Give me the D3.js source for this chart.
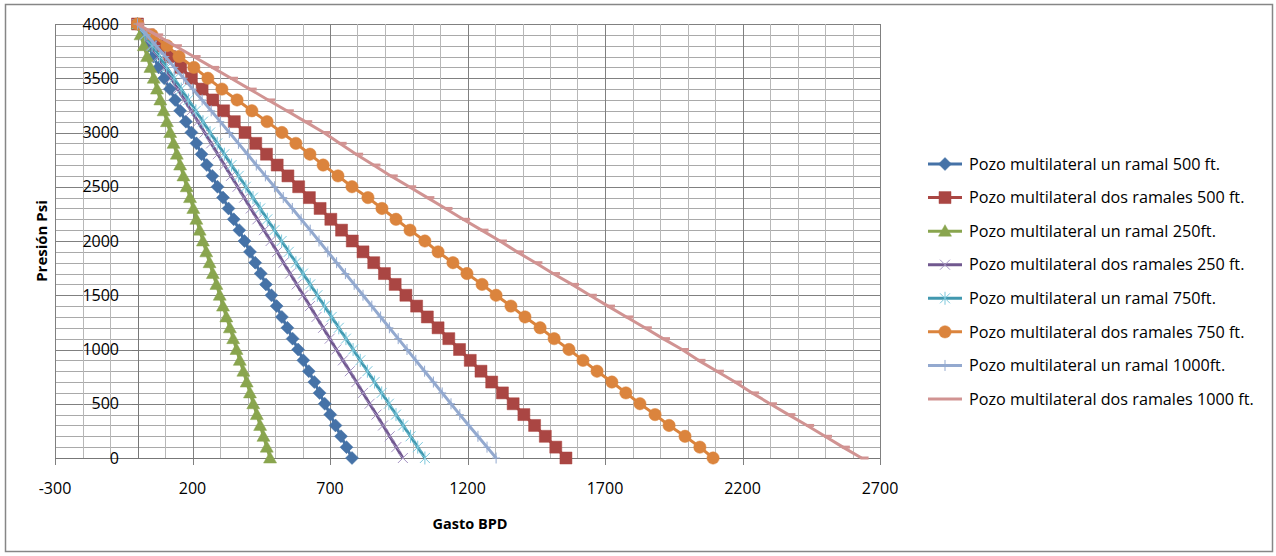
<!DOCTYPE html>
<html>
<head>
<meta charset="utf-8">
<script src="https://cdn.jsdelivr.net/npm/d3@7"></script>
<style>
  html, body { margin: 0; padding: 0; background: #fff; }
  svg text { font-family: 'Open Sans', 'Noto Sans', sans-serif; fill: #000; }
</style>
</head>
<body>
<script>
// pressure levels (psi), shared by every series
var pressure = [4000, 3900, 3800, 3700, 3600, 3500, 3400, 3300, 3200, 3100,
  3000, 2900, 2800, 2700, 2600, 2500, 2400, 2300, 2200, 2100,
  2000, 1900, 1800, 1700, 1600, 1500, 1400, 1300, 1200, 1100,
  1000, 900, 800, 700, 600, 500, 400, 300, 200, 100, 0];

// gasto (BPD) for each pressure level
var unRamal500 = [0, 22, 40, 58, 77, 97, 118, 137, 155, 176,
  196, 214, 233, 252, 272, 291, 311, 331, 350, 370,
  389, 409, 428, 448, 467, 487, 506, 525, 545, 564,
  584, 603, 623, 643, 662, 681, 701, 720, 740, 760, 780];
var dosRamales500 = [0, 39, 78, 117, 157, 196, 235, 274, 313, 352,
  391, 430, 469, 508, 547, 586, 625, 664, 703, 742,
  781, 820, 859, 898, 937, 976, 1015, 1054, 1093, 1132,
  1171, 1210, 1249, 1288, 1327, 1366, 1405, 1444, 1483, 1521, 1558];
var unRamal250 = [0, 11, 23, 35, 47, 59, 71, 83, 95, 107,
  119, 131, 143, 155, 167, 179, 191, 203, 214, 226,
  238, 250, 262, 274, 287, 299, 311, 323, 336, 348,
  360, 372, 385, 397, 409, 421, 434, 446, 458, 470, 482];
var dosRamales250 = [0, 25, 49, 74, 98, 122, 147, 171, 195, 220,
  244, 268, 292, 316, 340, 364, 388, 412, 436, 460,
  484, 508, 531, 555, 579, 603, 627, 651, 675, 699,
  723, 747, 772, 796, 820, 844, 869, 893, 917, 941, 965];
var unRamal750 = [0, 27, 53, 80, 106, 133, 159, 185, 212, 238,
  264, 290, 316, 342, 368, 394, 420, 446, 472, 498,
  524, 550, 576, 602, 628, 654, 680, 706, 732, 758,
  784, 810, 836, 862, 888, 914, 940, 966, 993, 1019, 1045];
var dosRamales750 = [0, 53, 107, 151, 205, 256, 307, 362, 416, 471,
  525, 576, 627, 675, 729, 780, 838, 889, 940, 991,
  1045, 1093, 1147, 1198, 1253, 1304, 1358, 1409, 1464, 1515,
  1569, 1620, 1671, 1725, 1776, 1827, 1882, 1933, 1991, 2045, 2093];
var unRamal1000 = [0, 34, 67, 101, 134, 168, 201, 235, 268, 301,
  334, 367, 400, 432, 465, 498, 530, 563, 595, 628,
  660, 692, 724, 756, 788, 820, 852, 884, 916, 948,
  980, 1012, 1044, 1076, 1108, 1140, 1172, 1205, 1238, 1271, 1304];
var dosRamales1000 = [0, 68, 136, 204, 272, 340, 408, 475, 543, 610,
  677, 735, 795, 858, 921, 988, 1054, 1120, 1184, 1251,
  1318, 1380, 1447, 1511, 1580, 1645, 1711, 1778, 1845, 1911,
  1980, 2040, 2107, 2173, 2235, 2300, 2367, 2435, 2500, 2565, 2633];

var seriesNames = [
  'Pozo multilateral un ramal 500 ft.',
  'Pozo multilateral dos ramales 500 ft.',
  'Pozo multilateral un ramal 250ft.',
  'Pozo multilateral dos ramales 250 ft.',
  'Pozo multilateral un ramal 750ft.',
  'Pozo multilateral dos ramales 750 ft.',
  'Pozo multilateral un ramal 1000ft.',
  'Pozo multilateral dos ramales 1000 ft.'
];

var xTickLabels = [-300, 200, 700, 1200, 1700, 2200, 2700];
var yTickLabels = [0, 500, 1000, 1500, 2000, 2500, 3000, 3500, 4000];

// line colour, marker colour, marker kind
var styles = [
  { color: '#4572A7', mark: '#4572A7', kind: 'diamond' },
  { color: '#AA4643', mark: '#AA4643', kind: 'square' },
  { color: '#89A54E', mark: '#89A54E', kind: 'triangle' },
  { color: '#71588F', mark: '#a594c4', kind: 'x' },
  { color: '#4198AF', mark: '#7cc8dc', kind: 'star' },
  { color: '#DB843D', mark: '#DB843D', kind: 'circle' },
  { color: '#93A9CF', mark: '#93A9CF', kind: 'plus' },
  { color: '#D19392', mark: '#D19392', kind: 'dash' }
];

var seriesValues = [unRamal500, dosRamales500, unRamal250, dosRamales250,
  unRamal750, dosRamales750, unRamal1000, dosRamales1000];

var W = 1276, H = 556;
var plot = { left: 55, right: 880, top: 24, bottom: 458 };

var svg = d3.select('body').append('svg')
  .attr('width', W)
  .attr('height', H);

// outer chart frame
svg.append('rect')
  .attr('x', 5.5).attr('y', 4.5)
  .attr('width', 1267).attr('height', 547)
  .attr('fill', '#fff')
  .attr('stroke', '#868686')
  .attr('stroke-width', 1.5);

var x = d3.scaleLinear().domain([-300, 2700]).range([plot.left, plot.right]);
var y = d3.scaleLinear().domain([0, 4000]).range([plot.bottom, plot.top]);

var grid = svg.append('g');

// minor + major horizontal gridlines
grid.selectAll('.hmin')
  .data(d3.range(0, 4001, 100))
  .enter()
  .append('line')
    .attr('x1', plot.left)
    .attr('x2', plot.right)
    .attr('y1', function (d) { return Math.round(y(d)) + 0.5; })
    .attr('y2', function (d) { return Math.round(y(d)) + 0.5; })
    .attr('stroke', function (d) { return d % 500 === 0 ? '#808080' : '#a9a9a9'; })
    .attr('stroke-width', 1);

// vertical gridlines, majors run a little below the axis as ticks
grid.selectAll('.vmin')
  .data(d3.range(-300, 2701, 100))
  .enter()
  .append('line')
    .attr('x1', function (d) { return Math.round(x(d)) + 0.5; })
    .attr('x2', function (d) { return Math.round(x(d)) + 0.5; })
    .attr('y1', plot.top)
    .attr('y2', function (d) { return (d + 300) % 500 === 0 ? plot.bottom + 7 : plot.bottom; })
    .attr('stroke', function (d) { return (d + 300) % 500 === 0 ? '#808080' : '#b8b8b8'; })
    .attr('stroke-width', 1);

// axis lines: x axis at 0 psi, y axis at 0 BPD
svg.append('line')
  .attr('x1', plot.left).attr('x2', plot.right)
  .attr('y1', Math.round(y(0)) + 0.5).attr('y2', Math.round(y(0)) + 0.5)
  .attr('stroke', '#777');
svg.append('line')
  .attr('x1', Math.round(x(0)) + 0.5).attr('x2', Math.round(x(0)) + 0.5)
  .attr('y1', plot.top).attr('y2', plot.bottom)
  .attr('stroke', '#777');
svg.selectAll('.ytick')
  .data(yTickLabels)
  .enter()
  .append('line')
    .attr('x1', Math.round(x(0)) - 6).attr('x2', Math.round(x(0)))
    .attr('y1', function (d) { return Math.round(y(d)) + 0.5; })
    .attr('y2', function (d) { return Math.round(y(d)) + 0.5; })
    .attr('stroke', '#777');

// tick labels
svg.selectAll('.ylab')
  .data(yTickLabels)
  .enter()
  .append('text')
    .attr('x', 119)
    .attr('y', function (d) { return y(d); })
    .attr('dy', '0.35em')
    .attr('text-anchor', 'end')
    .style('font-size', '16px')
    .text(function (d) { return d; });

svg.selectAll('.xlab')
  .data(xTickLabels)
  .enter()
  .append('text')
    .attr('x', function (d) { return x(d); })
    .attr('y', 488)
    .attr('dy', '0.35em')
    .attr('text-anchor', 'middle')
    .style('font-size', '16px')
    .text(function (d) { return d; });

// axis titles
svg.append('text')
  .attr('transform', 'translate(42,' + ((plot.top + plot.bottom) / 2) + ') rotate(-90)')
  .attr('text-anchor', 'middle')
  .attr('dy', '0.35em')
  .style('font-size', '15px')
  .style('font-weight', 'bold')
  .text('Presión Psi');

svg.append('text')
  .attr('x', 470)
  .attr('y', 524)
  .attr('dy', '0.35em')
  .attr('text-anchor', 'middle')
  .style('font-size', '14.5px')
  .style('font-weight', 'bold')
  .text('Gasto BPD');

// marker shapes
function markerPath(kind) {
  switch (kind) {
    case 'diamond': return 'M0,-6.5L6.5,0L0,6.5L-6.5,0Z';
    case 'square': return 'M-6,-6H6V6H-6Z';
    case 'triangle': return 'M0,-6.5L6.5,5L-6.5,5Z';
    case 'circle': return d3.symbol(d3.symbolCircle, 120)();
    case 'x': return 'M-5,-5L5,5M-5,5L5,-5';
    case 'star': return 'M-5,-5L5,5M-5,5L5,-5M0,-6.5V6.5';
    case 'plus': return 'M0,-5.5V5.5M-4,0H4';
    case 'dash': return 'M-1,0H7';
  }
}
function isStroke(kind) {
  return kind === 'x' || kind === 'star' || kind === 'plus' || kind === 'dash';
}

var line = d3.line()
  .x(function (d) { return x(d.q); })
  .y(function (d) { return y(d.p); });

var series = seriesValues.map(function (vals, i) {
  return {
    name: seriesNames[i],
    style: styles[i],
    points: vals.map(function (q, j) { return { q: q, p: pressure[j] }; })
  };
});

var sg = svg.selectAll('.series')
  .data(series)
  .enter()
  .append('g')
  .attr('class', 'series');

sg.append('path')
  .attr('d', function (d) { return line(d.points); })
  .attr('fill', 'none')
  .attr('stroke', function (d) { return d.style.color; })
  .attr('stroke-width', 3)
  .attr('stroke-linejoin', 'round');

sg.each(function (s) {
  d3.select(this).selectAll('.m')
    .data(s.points)
    .enter()
    .append('path')
      .attr('transform', function (d) { return 'translate(' + x(d.q) + ',' + y(d.p) + ')'; })
      .attr('d', markerPath(s.style.kind))
      .attr('fill', isStroke(s.style.kind) ? 'none' : s.style.mark)
      .attr('stroke', s.style.mark)
      .attr('stroke-width', s.style.kind === 'dash' ? 3 : (isStroke(s.style.kind) ? 1 : 0.5));
});

// legend
var legend = svg.append('g');
var legY = d3.scaleLinear().domain([0, 7]).range([164, 399]);

var li = legend.selectAll('.li')
  .data(series)
  .enter()
  .append('g')
  .attr('transform', function (d, i) { return 'translate(928,' + legY(i) + ')'; });

li.append('line')
  .attr('x1', 0).attr('x2', 34)
  .attr('y1', 0).attr('y2', 0)
  .attr('stroke', function (d) { return d.style.color; })
  .attr('stroke-width', 3);

li.append('path')
  .attr('transform', 'translate(17,0)')
  .attr('d', function (d) { return d.style.kind === 'dash' ? '' : markerPath(d.style.kind); })
  .attr('fill', function (d) { return isStroke(d.style.kind) ? 'none' : d.style.mark; })
  .attr('stroke', function (d) { return d.style.mark; })
  .attr('stroke-width', function (d) { return isStroke(d.style.kind) ? 1 : 0.5; });

li.append('text')
  .attr('x', 41)
  .attr('y', 0)
  .attr('dy', '0.35em')
  .style('font-size', '16.2px')
  .text(function (d) { return d.name; });
</script>
</body>
</html>
